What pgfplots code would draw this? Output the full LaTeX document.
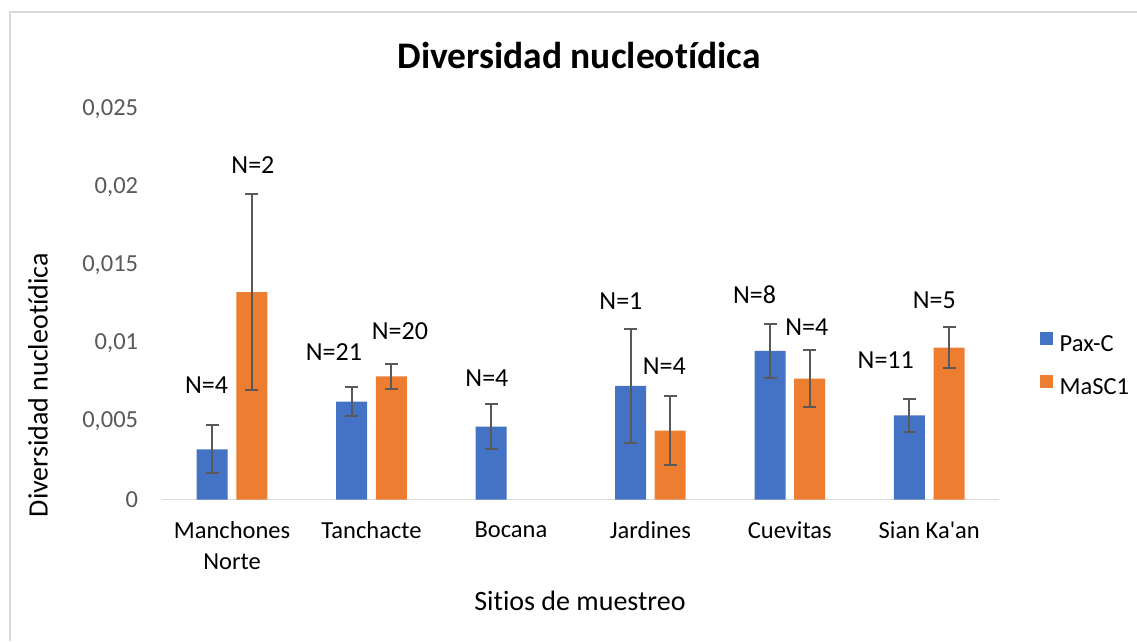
\documentclass[border=0pt]{standalone}
\usepackage{pgfplots}
\pgfplotsset{compat=1.18}
\usepackage{pgfplotstable}
\usepackage{fontspec}
\setmainfont{Carlito}[Ligatures={NoCommon}]
\definecolor{paxblue}{HTML}{4472C4}
\definecolor{mascorange}{HTML}{ED7D31}
\definecolor{errgray}{HTML}{595959}
\definecolor{ticktext}{HTML}{595959}
\definecolor{linegray}{HTML}{D9D9D9}

\pgfplotstableread{
x y err
0 0.00322 0.00155
1 0.00627 0.00091
2 0.00467 0.00143
3 0.00728 0.00366
4 0.00952 0.00173
5 0.00540 0.00106
}\paxdata

\pgfplotstableread{
x y err
0 0.01329 0.00627
1 0.00790 0.00079
3 0.00441 0.00221
4 0.00775 0.00182
5 0.00973 0.00132
}\mascdata

\begin{document}
\begin{tikzpicture}
\useasboundingbox (0,0) rectangle (1137pt,641pt);
\draw[linegray, line width=2pt] (10pt,0pt) -- (10pt,628.5pt) -- (1140pt,628.5pt);
\node[anchor=base, font=\fontsize{37.5}{42}\selectfont\bfseries] at (579pt,572pt) {Diversidad nucleotídica};
\node[rotate=90, font=\fontsize{28}{32}\selectfont] at (38pt,256pt) {Diversidad nucleotídica};
\node[font=\fontsize{28}{32}\selectfont] at (580pt,40pt) {Sitios de muestreo};
\begin{axis}[
  at={(162.3pt,141.5pt)}, anchor=south west,
  scale only axis, width=836.7pt, height=390pt,
  xmin=-0.5, xmax=5.5, ymin=0, ymax=0.025,
  ybar=8.6pt, bar width=31pt,
  clip=false,
  axis x line*=bottom, axis y line*=left,
  x axis line style={linegray, line width=1.5pt, -},
  y axis line style={draw=none},
  xtick={0,1,2,3,4,5},
  xticklabels={{Manchones\\Norte},Tanchacte,Bocana,Jardines,Cuevitas,{Sian Ka\textquotesingle an}},
  xticklabel style={align=center, anchor=north, inner sep=0pt, yshift=-22pt, font=\fontsize{24.5}{31}\selectfont, text=black},
  ytick={0,0.005,0.01,0.015,0.02,0.025},
  yticklabels={0,{0,005},{0,01},{0,015},{0,02},{0,025}},
  scaled y ticks=false,
  yticklabel style={anchor=east, inner sep=0pt, xshift=-24pt, font=\fontsize{24.5}{30}\selectfont, text=ticktext},
  major tick length=0pt,
  tick style={draw=none},
  legend style={draw=none, fill=none, at={(1.049,0.43)}, anchor=north west, inner sep=0pt,
    font=\fontsize{24.5}{29}\selectfont, text=black, row sep=22pt, column sep=7pt, nodes={inner sep=0pt}},
  legend image code/.code={\fill[#1] (0pt,0pt) rectangle (12.5pt,12.5pt);},
  legend cell align=left,
]
\addplot[fill=paxblue, draw=none,
  error bars/.cd, y dir=both, y explicit,
  error bar style={errgray, line width=2pt},
  error mark options={errgray, line width=2pt, mark size=6.5pt, rotate=90}]
  table[x=x, y=y, y error=err] {\paxdata};
\addlegendentry{Pax-C}
\addplot[fill=mascorange, draw=none,
  error bars/.cd, y dir=both, y explicit,
  error bar style={errgray, line width=2pt},
  error mark options={errgray, line width=2pt, mark size=6.5pt, rotate=90}]
  table[x=x, y=y, y error=err] {\mascdata};
\addlegendentry{MaSC1}
\begin{scope}[every node/.style={font=\fontsize{26}{30}\selectfont, text=black}]
\node at (axis cs:-0.183,0.0073) {N=4};
\node at (axis cs:0.150,0.02144) {N=2};
\node at (axis cs:0.731,0.00947) {N=21};
\node at (axis cs:1.204,0.01076) {N=20};
\node at (axis cs:1.828,0.00777) {N=4};
\node at (axis cs:2.789,0.01274) {N=1};
\node at (axis cs:3.100,0.00856) {N=4};
\node at (axis cs:3.747,0.01311) {N=8};
\node at (axis cs:4.122,0.01108) {N=4};
\node at (axis cs:4.688,0.00894) {N=11};
\node at (axis cs:5.036,0.01279) {N=5};
\end{scope}
\end{axis}
\end{tikzpicture}
\end{document}
